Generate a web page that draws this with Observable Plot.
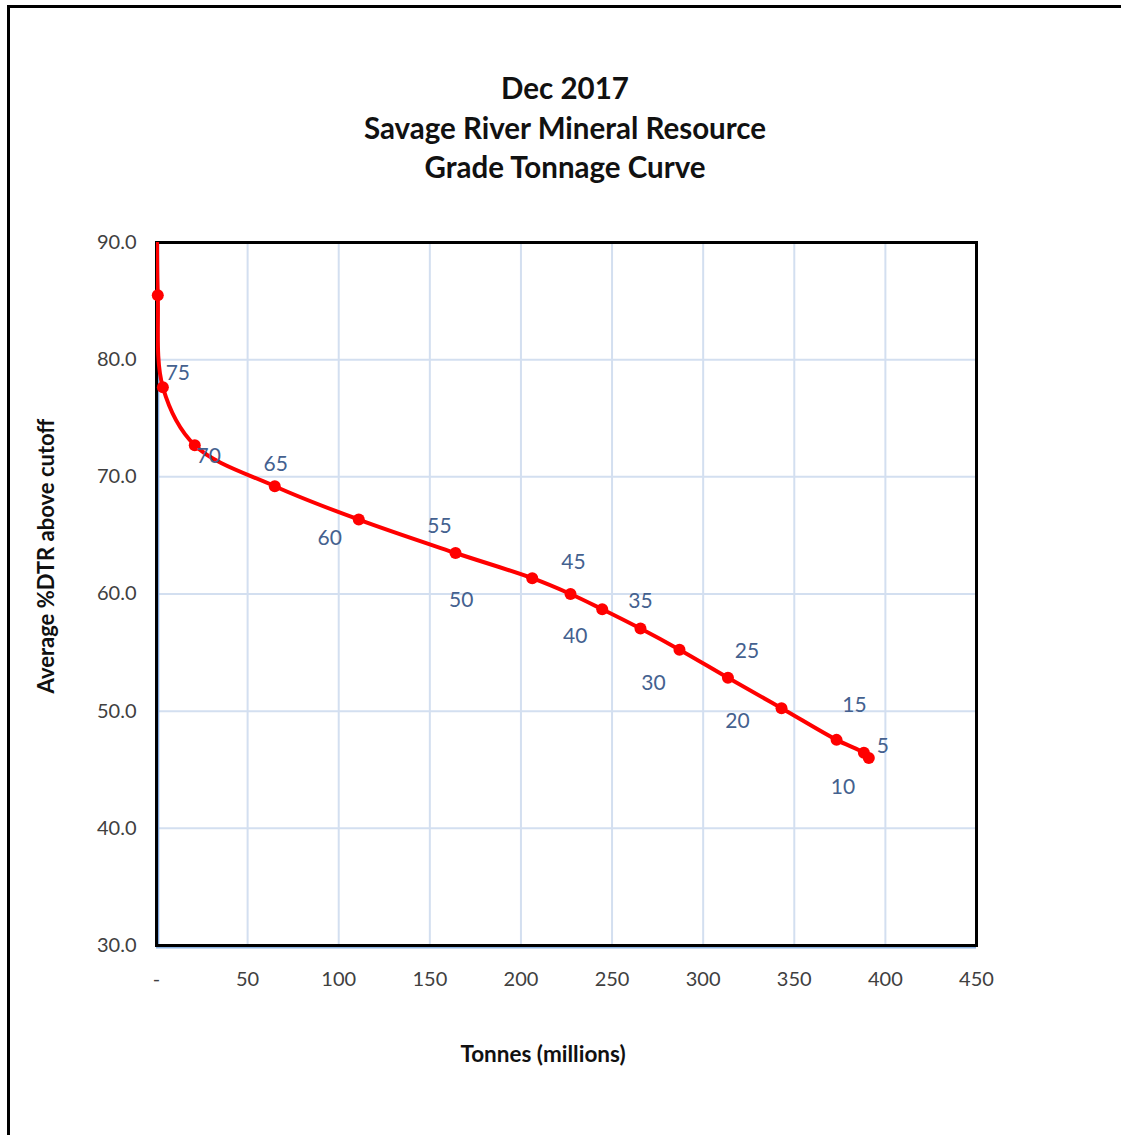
<!DOCTYPE html>
<html>
<head>
<meta charset="utf-8">
<script src="https://cdn.jsdelivr.net/npm/d3@7"></script>
<script src="https://cdn.jsdelivr.net/npm/@observablehq/plot@0.6"></script>
<style>
  html, body { margin: 0; padding: 0; background: #fff; }
  #wrap { position: relative; width: 1121px; height: 1135px; overflow: hidden; font-family: Lato, "Open Sans", sans-serif; }
  #border { position: absolute; left: 7px; top: 5px; width: 1200px; height: 1200px; border-top: 3px solid #000; border-left: 3px solid #000; box-sizing: border-box; }
  #title { position: absolute; left: 0; width: 1130px; top: 68px; text-align: center; font-weight: bold; font-size: 29.5px; line-height: 39.5px; color: #111; }
  #ylab { position: absolute; left: 45px; top: 556px; transform: translate(-50%, -50%) rotate(-90deg); white-space: nowrap; font-weight: bold; font-size: 22px; color: #111; }
  #xlab { position: absolute; left: 543px; top: 1053px; transform: translate(-50%, -50%); white-space: nowrap; font-weight: bold; font-size: 22.5px; color: #111; }
  #chart { position: absolute; left: 0; top: 0; }
</style>
</head>
<body>
<div id="wrap">
  <div id="border"></div>
  <div id="title">Dec 2017<br>Savage River Mineral Resource<br>Grade Tonnage Curve</div>
  <div id="chart"></div>
  <div id="ylab">Average %DTR above cutoff</div>
  <div id="xlab">Tonnes (millions)</div>
</div>
<script>
// Data: tonnes (millions) and average %DTR above cutoff, by cutoff grade
const tonnes = [0.3, 0.7, 3.5, 21.0, 64.9, 111.0, 164.1, 206.2, 227.2, 244.6, 265.6, 287.0, 313.6, 343.0, 373.2, 388.2, 390.9];
const grades = [92.0, 85.5, 77.65, 72.7, 69.2, 66.35, 63.5, 61.35, 60.0, 58.7, 57.05, 55.25, 52.85, 50.25, 47.55, 46.45, 46.0];
const cutoffs = ["85", "80", "75", "70", "65", "60", "55", "50", "45", "40", "35", "30", "25", "20", "15", "10", "5"];
const labelled = [false, false, true, true, true, true, true, true, true, true, true, true, true, true, true, true, true];
const xTicks = [0, 50, 100, 150, 200, 250, 300, 350, 400, 450];
const yTicks = [30, 40, 50, 60, 70, 80, 90];

const rows = tonnes.map((t, i) => ({t, g: grades[i], c: cutoffs[i], show: labelled[i]}));

// label placement offsets (style, not data)
const labelOffsets = {
  "75": [15, -14], "70": [14, 11], "65": [1, -22], "60": [-29, 19], "55": [-16, -27],
  "50": [-71, 22], "45": [3, -32], "40": [-27, 27], "35": [0, -27], "30": [-26, 34],
  "25": [19, -27], "20": [-44, 13], "15": [18, -35], "10": [-21, 35], "5": [14, -12]
};
const labelRows = rows.filter(d => d.show);

const W = 1121, H = 1135;
const plot = Plot.plot({
  width: W,
  height: H,
  marginTop: 242,
  marginBottom: H - 945,
  marginLeft: 156,
  marginRight: W - 976,
  style: {fontFamily: "Lato, 'Open Sans', sans-serif", fontSize: "20px", color: "#404040", background: "transparent"},
  x: {domain: [0, 450], ticks: xTicks, tickFormat: d => d === 0 ? "-" : String(d), label: null, tickSize: 0, tickPadding: 26},
  y: {domain: [30, 90], ticks: yTicks, tickFormat: d3.format(".1f"), label: null, tickSize: 0, tickPadding: 20},
  marks: [
    Plot.gridX(xTicks.filter(d => d > 0 && d < 450), {stroke: "#D3DFF0", strokeOpacity: 1, strokeWidth: 2}),
    Plot.gridY(yTicks.filter(d => d > 30 && d < 90), {stroke: "#D3DFF0", strokeOpacity: 1, strokeWidth: 2}),
    Plot.axisX({ticks: xTicks, tickFormat: d => d === 0 ? "-" : String(d), tickSize: 0, tickPadding: 26, label: null, fill: "#404040"}),
    Plot.axisY({ticks: yTicks, tickFormat: d3.format(".1f"), tickSize: 0, tickPadding: 20, label: null, fill: "#404040"}),
    Plot.ruleY([30], {stroke: "#8DB3E2", strokeWidth: 2, dy: 2}),
    Plot.ruleX([0], {stroke: "#7FA6DC", strokeWidth: 1.5, dx: 2}),
    Plot.frame({stroke: "#000", strokeWidth: 3}),
    Plot.line(rows, {x: "t", y: "g", stroke: "#FF0000", strokeWidth: 4, curve: "catmull-rom", clip: true}),
    Plot.dot(rows.filter(d => d.g <= 90), {x: "t", y: "g", r: 6, fill: "#FF0000", stroke: "none"}),
    Plot.text(labelRows, {
      x: "t", y: "g", text: "c",
      fill: "#44618F", fontSize: 21
    })
  ]
});

// apply per-label offsets via transform on the text elements
const textEls = plot.querySelectorAll('g[aria-label="text"] text');
textEls.forEach((el, i) => {
  const off = labelOffsets[labelRows[i].c] || [0, 0];
  const tr = el.getAttribute("transform") || "";
  el.setAttribute("transform", tr + ` translate(${off[0]},${off[1]})`);
});

document.getElementById("chart").appendChild(plot);
</script>
</body>
</html>
